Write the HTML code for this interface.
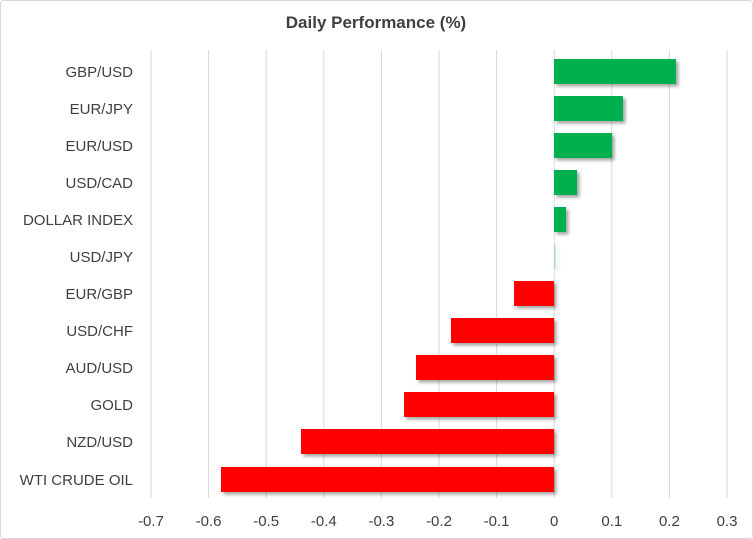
<!DOCTYPE html><html><head><style>body{margin:0;background:#fff}svg{display:block}text{font-family:"Liberation Sans",sans-serif;fill:#404040}</style></head><body>
<svg width="753" height="539" xmlns="http://www.w3.org/2000/svg">
<defs><filter id="s" x="-10%" y="-20%" width="130%" height="160%"><feDropShadow dx="2.5" dy="2.5" stdDeviation="1.5" flood-color="#000" flood-opacity="0.35"/></filter></defs>
<rect x="0.5" y="0.5" width="752" height="538" rx="3" fill="#fff" stroke="#d9d9d9"/>
<text x="376" y="28" text-anchor="middle" font-size="17" font-weight="bold" fill="#404040">Daily Performance  (%)</text>
<g stroke="#d9d9d9" stroke-width="1">
<line x1="151" y1="50" x2="151" y2="498"/><line x1="208.6" y1="50" x2="208.6" y2="498"/><line x1="266.2" y1="50" x2="266.2" y2="498"/><line x1="323.8" y1="50" x2="323.8" y2="498"/><line x1="381.4" y1="50" x2="381.4" y2="498"/><line x1="439" y1="50" x2="439" y2="498"/><line x1="496.6" y1="50" x2="496.6" y2="498"/><line x1="554.2" y1="50" x2="554.2" y2="498"/><line x1="611.8" y1="50" x2="611.8" y2="498"/><line x1="669.4" y1="50" x2="669.4" y2="498"/><line x1="727" y1="50" x2="727" y2="498"/>
</g>
<g filter="url(#s)">
<rect x="554" y="59" width="122" height="25" fill="#00b050"/>
<rect x="554" y="96" width="69" height="25" fill="#00b050"/>
<rect x="554" y="133" width="58" height="25" fill="#00b050"/>
<rect x="554" y="170" width="23" height="25" fill="#00b050"/>
<rect x="554" y="207" width="12" height="25" fill="#00b050"/>
<rect x="554" y="244" width="2" height="25" fill="#00b050" opacity="0.2"/>
<rect x="514" y="281" width="40" height="25" fill="#ff0000"/>
<rect x="451" y="318" width="103" height="25" fill="#ff0000"/>
<rect x="416" y="355" width="138" height="25" fill="#ff0000"/>
<rect x="404" y="392" width="150" height="25" fill="#ff0000"/>
<rect x="301" y="429" width="253" height="25" fill="#ff0000"/>
<rect x="221" y="467" width="333" height="25" fill="#ff0000"/>
</g>
<g font-size="15" text-anchor="end">
<text x="133" y="77">GBP/USD</text><text x="133" y="114">EUR/JPY</text><text x="133" y="151">EUR/USD</text><text x="133" y="188">USD/CAD</text><text x="133" y="225">DOLLAR INDEX</text><text x="133" y="262">USD/JPY</text><text x="133" y="299">EUR/GBP</text><text x="133" y="336">USD/CHF</text><text x="133" y="373">AUD/USD</text><text x="133" y="410">GOLD</text><text x="133" y="447">NZD/USD</text><text x="133" y="485">WTI CRUDE OIL</text>
</g>
<g font-size="15" text-anchor="middle">
<text x="151" y="526">-0.7</text><text x="208.6" y="526">-0.6</text><text x="266.2" y="526">-0.5</text><text x="323.8" y="526">-0.4</text><text x="381.4" y="526">-0.3</text><text x="439" y="526">-0.2</text><text x="496.6" y="526">-0.1</text><text x="554.2" y="526">0</text><text x="611.8" y="526">0.1</text><text x="669.4" y="526">0.2</text><text x="727" y="526">0.3</text>
</g>
</svg></body></html>
